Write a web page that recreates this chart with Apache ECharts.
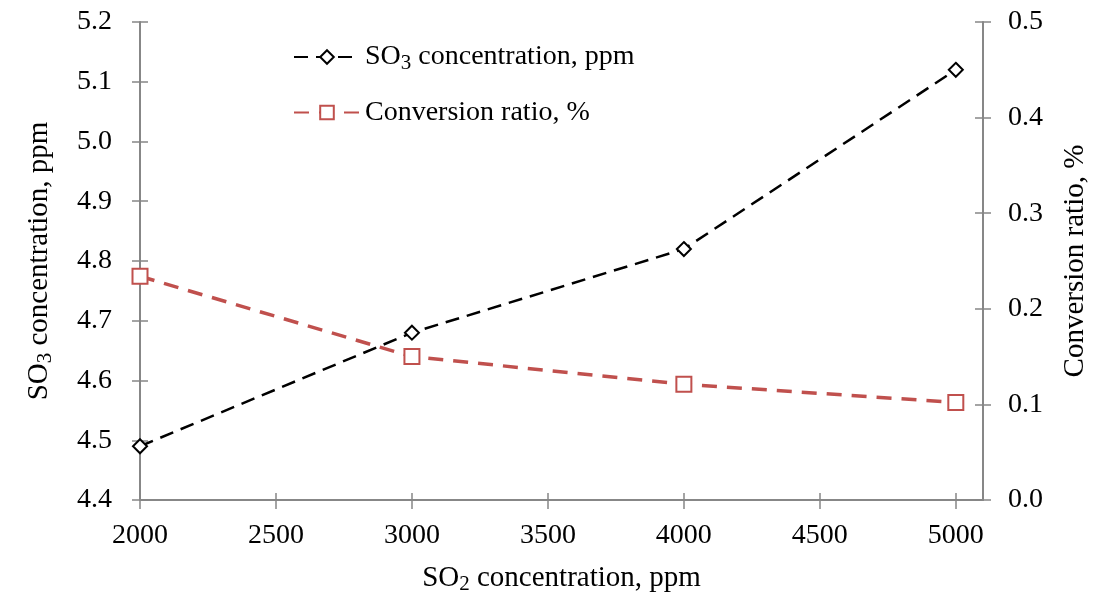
<!DOCTYPE html>
<html>
<head>
<meta charset="utf-8">
<script src="https://cdn.jsdelivr.net/npm/echarts@6/dist/echarts.min.js"></script>
<style>
html,body{margin:0;padding:0;background:#fff;}
#chart{width:1093px;height:594px;}
</style>
</head>
<body>
<div id="chart"></div>
<script>
var so2 = [2000, 3000, 4000, 5000];
var so3Conc = [4.49, 4.68, 4.82, 5.12];
var convRatio = [0.234, 0.150, 0.121, 0.102];
var seriesNames = ['SO3 concentration, ppm', 'Conversion ratio, %'];
var seriesLabels = ['{a|SO}{sub|3}{a| concentration, ppm}', '{a|Conversion ratio, %}'];
var xName = '{a|SO}{sub|2}{a| concentration, ppm}';
var yLeftName = '{a|SO}{sub|3}{a| concentration, ppm}';
var yRightName = '{a|Conversion ratio, %}';

var FONT = 'Liberation Serif';
var AXIS_COLOR = '#878787';
var RED = '#C0504D';

function richStyle(size) {
  return {
    a: { fontFamily: FONT, fontSize: size, color: '#000', lineHeight: 30, verticalAlign: 'middle' },
    sub: { fontFamily: FONT, fontSize: Math.round(size * 0.74), color: '#000', verticalAlign: 'middle', padding: [12, 0, 0, 0] }
  };
}
function pairs(xs, ys) { return xs.map(function (x, i) { return [x, ys[i]]; }); }

var chart = echarts.init(document.getElementById('chart'));
var baseX = { type: 'value', min: 2000, max: 5100, interval: 500, gridIndex: 0, position: 'bottom', splitLine: { show: false } };
var option = {
  animation: false,
  backgroundColor: '#fff',
  textStyle: { fontFamily: FONT },
  grid: { left: 140, right: 110, top: 22, bottom: 94, containLabel: false, outerBoundsMode: 'none' },
  legend: {
    orient: 'vertical',
    left: 288,
    top: 38,
    itemWidth: 66,
    itemHeight: 17,
    itemGap: 25,
    textStyle: { fontFamily: FONT, fontSize: 28, color: '#000', rich: richStyle(28) },
    formatter: function (name) { return seriesLabels[seriesNames.indexOf(name)]; },
    data: seriesNames
  },
  xAxis: [
    Object.assign({}, baseX, {
      name: xName,
      nameLocation: 'middle',
      nameGap: 62,
      nameTextStyle: { rich: richStyle(29) },
      axisLine: { show: true, lineStyle: { color: AXIS_COLOR, width: 2 } },
      axisTick: { show: true, inside: false, length: 9, lineStyle: { color: AXIS_COLOR, width: 1.5 } },
      axisLabel: { show: true, margin: 22, fontFamily: FONT, fontSize: 28, color: '#000', showMaxLabel: false,
        formatter: function (v) { return String(v); } }
    }),
    Object.assign({}, baseX, {
      axisLine: { show: false },
      axisTick: { show: true, inside: true, length: 7, lineStyle: { color: AXIS_COLOR, width: 1.5 } },
      axisLabel: { show: false }
    })
  ],
  yAxis: [
    {
      type: 'value', min: 4.4, max: 5.2, interval: 0.1, position: 'left',
      splitLine: { show: false },
      name: yLeftName, nameLocation: 'middle', nameRotate: 90, nameGap: 84,
      nameTextStyle: { rich: richStyle(29) },
      axisLine: { show: true, lineStyle: { color: AXIS_COLOR, width: 2 } },
      axisTick: { show: true, inside: false, length: 8, lineStyle: { color: AXIS_COLOR, width: 1.5 } },
      axisLabel: { margin: 28, fontFamily: FONT, fontSize: 28, color: '#000', formatter: function (v) { return v.toFixed(1); } }
    },
    {
      type: 'value', min: 0, max: 0.5, interval: 0.1, position: 'right',
      splitLine: { show: false },
      name: yRightName, nameLocation: 'middle', nameRotate: 90, nameGap: 77,
      nameTextStyle: { rich: richStyle(29) },
      axisLine: { show: true, lineStyle: { color: AXIS_COLOR, width: 2 } },
      axisTick: { show: true, inside: false, length: 8, lineStyle: { color: AXIS_COLOR, width: 1.5 } },
      axisLabel: { margin: 25, fontFamily: FONT, fontSize: 28, color: '#000', formatter: function (v) { return v.toFixed(1); } }
    },
    {
      type: 'value', min: 4.4, max: 5.2, interval: 0.1, position: 'left',
      splitLine: { show: false }, axisLine: { show: false }, axisLabel: { show: false },
      axisTick: { show: true, inside: true, length: 8, lineStyle: { color: AXIS_COLOR, width: 1.5 } }
    },
    {
      type: 'value', min: 0, max: 0.5, interval: 0.1, position: 'right',
      splitLine: { show: false }, axisLine: { show: false }, axisLabel: { show: false },
      axisTick: { show: true, inside: true, length: 8, lineStyle: { color: AXIS_COLOR, width: 1.5 } }
    }
  ],
  series: [
    {
      name: seriesNames[0], type: 'line', xAxisIndex: 0, yAxisIndex: 0,
      data: pairs(so2, so3Conc),
      color: '#000',
      symbol: 'emptyDiamond', symbolSize: 14,
      lineStyle: { color: '#000', width: 2.5, type: [14, 8] },
      itemStyle: { color: '#000', borderColor: '#000', borderWidth: 2 }
    },
    {
      name: seriesNames[1], type: 'line', xAxisIndex: 0, yAxisIndex: 1,
      data: pairs(so2, convRatio),
      color: RED,
      symbol: 'emptyRect', symbolSize: 15,
      lineStyle: { color: RED, width: 3.5, type: [15, 10] },
      itemStyle: { color: RED, borderColor: RED, borderWidth: 1.5 }
    }
  ]
};
chart.setOption(option);
</script>
</body>
</html>
